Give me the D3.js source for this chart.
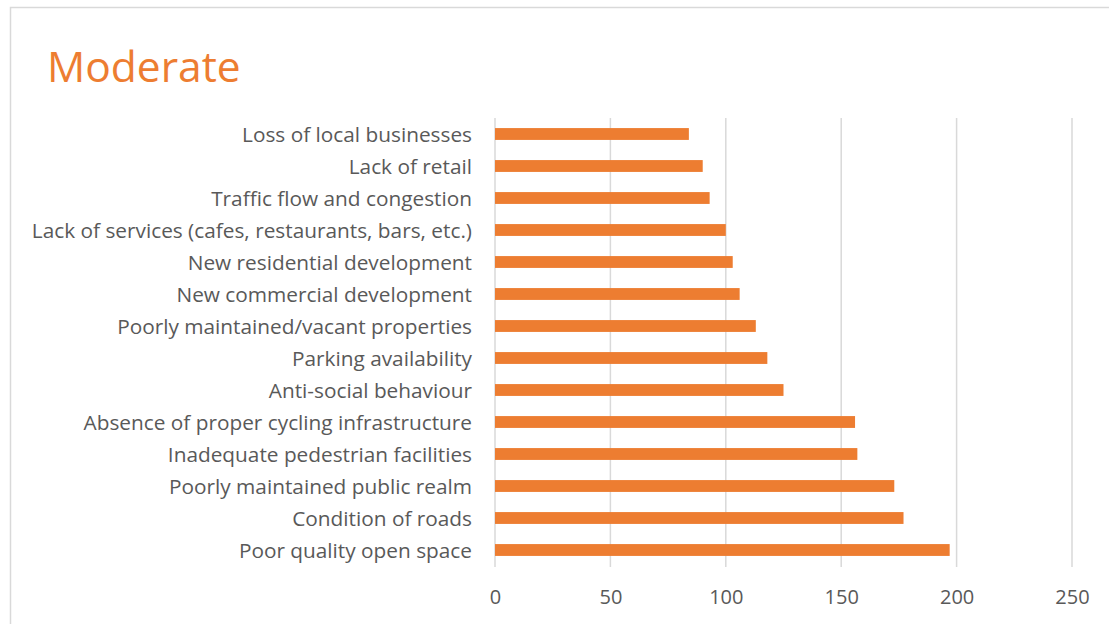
<!DOCTYPE html>
<html><head><meta charset="utf-8">
<script src="https://cdn.jsdelivr.net/npm/d3@7"></script>
<style>html,body{margin:0;padding:0;background:#fff;}svg{display:block;}</style>
</head><body>
<svg id="chart" width="1109" height="624"></svg>
<script>
const categories = [
  "Loss of local businesses",
  "Lack of retail",
  "Traffic flow and congestion",
  "Lack of services (cafes, restaurants, bars, etc.)",
  "New residential development",
  "New commercial development",
  "Poorly maintained/vacant properties",
  "Parking availability",
  "Anti-social behaviour",
  "Absence of proper cycling infrastructure",
  "Inadequate pedestrian facilities",
  "Poorly maintained public realm",
  "Condition of roads",
  "Poor quality open space"
];
const values = [84, 90, 93, 100, 103, 106, 113, 118, 125, 156, 157, 173, 177, 197];
const tickValues = [0, 50, 100, 150, 200, 250];
const title = "Moderate";

const svg = d3.select("#chart");
const font = "'Open Sans', sans-serif";

// border
svg.append("path").attr("d", "M10.5,624 V7.5 H1109").attr("fill","none").attr("stroke","#d9d9d9").attr("stroke-width",1.5);

svg.append("text").attr("x", 47).attr("y", 82).text(title)
  .attr("font-family", font).attr("font-size", 42.5).attr("fill", "#ED7D31");

const x = d3.scaleLinear().domain([0, 250]).range([495, 1072]);
const y = d3.scaleBand().domain(categories).range([118, 566]).paddingInner(0.63).paddingOuter(0.315);

// gridlines
svg.append("g").selectAll("line").data(tickValues).join("line")
  .attr("x1", d => x(d)).attr("x2", d => x(d)).attr("y1", 118).attr("y2", 567)
  .attr("stroke", "#d9d9d9").attr("stroke-width", 1.5);

svg.append("g").selectAll("rect").data(categories).join("rect")
  .attr("x", x(0)).attr("y", d => y(d))
  .attr("width", (d,i) => x(values[i]) - x(0)).attr("height", y.bandwidth())
  .attr("fill", "#ED7D31");

const xAxis = d3.axisBottom(x).tickValues(tickValues).tickSize(0).tickPadding(0);
const gx = svg.append("g").attr("transform", "translate(0,590)").call(xAxis);
gx.select(".domain").remove();
gx.selectAll("text").attr("font-family", font).attr("font-size", 20).attr("fill", "#595959").attr("dy","0.71em");

const yAxis = d3.axisLeft(y).tickSize(0).tickPadding(0);
const gy = svg.append("g").attr("transform", "translate(472,1.5)").call(yAxis);
gy.select(".domain").remove();
gy.selectAll("text").attr("font-family", font).attr("font-size", 20.8).attr("fill", "#595959");
</script>
</body></html>
